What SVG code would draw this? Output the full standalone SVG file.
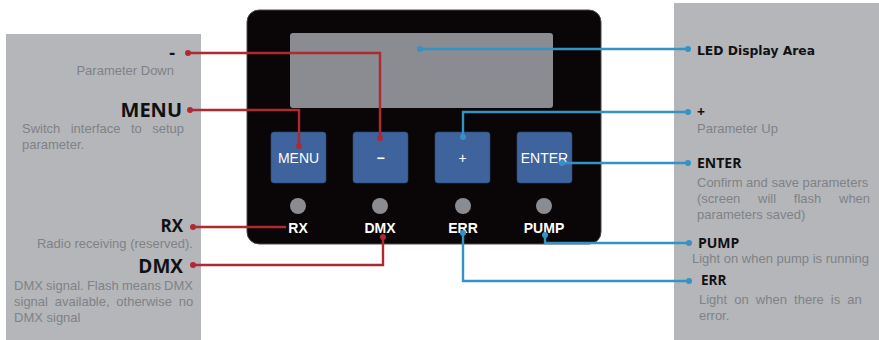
<svg xmlns="http://www.w3.org/2000/svg" width="879" height="340" viewBox="0 0 879 340">
<style>
.panel{fill:#b4b6ba}
.desc{font-family:"Liberation Sans",Arial,sans-serif;font-size:13px;fill:#808286}
.lbl{font-family:"Open Sans","Noto Sans",sans-serif;font-weight:bold;fill:#111}
.btn{fill:#3e639d;stroke:#2c4a78;stroke-width:0.6}
.btxt{font-family:"Liberation Sans",Arial,sans-serif;font-size:14px;fill:#fff;text-anchor:middle}
.led{fill:#8a8c91}
.ledt{font-family:"Liberation Sans",Arial,sans-serif;font-size:14px;font-weight:bold;fill:#fff;text-anchor:middle}
.red{fill:none;stroke:#ae2a33;stroke-width:2.4}
.blue{fill:none;stroke:#3592c4;stroke-width:2.4}
.rd{fill:#ae2a33}
.bd{fill:#3592c4}
</style>
<rect width="879" height="340" fill="#fff"/>
<g id="left-panel">
<rect class="panel" x="6" y="34" width="195" height="306"/>
</g>
<g id="right-panel">
<rect class="panel" x="674" y="3" width="205" height="337"/>
</g>
<g id="device">
<rect x="247" y="10" width="354" height="234" rx="12" fill="#0a0506" stroke="#4a4a4a" stroke-width="1"/>
</g>
<g id="display">
<rect x="290" y="33" width="263" height="75" rx="3" fill="#8a8c91"/>
</g>
<g id="btn-menu">
<rect class="btn" x="271" y="132" width="55" height="51" rx="3"/>
<text class="btxt" x="298.5" y="163">MENU</text>
</g>
<g id="btn-minus">
<rect class="btn" x="353" y="132" width="55" height="51" rx="3"/>
<text class="btxt" x="380.5" y="163" font-weight="bold">−</text>
</g>
<g id="btn-plus">
<rect class="btn" x="435" y="132" width="55" height="51" rx="3"/>
<text class="btxt" x="462.5" y="163">+</text>
</g>
<g id="btn-enter">
<rect class="btn" x="517" y="132" width="55" height="51" rx="3"/>
<text class="btxt" x="544.5" y="163">ENTER</text>
</g>
<g id="led-rx">
<circle class="led" cx="298" cy="206" r="8"/>
<text class="ledt" x="298" y="233">RX</text>
</g>
<g id="led-dmx">
<circle class="led" cx="380" cy="206" r="8"/>
<text class="ledt" x="380" y="233">DMX</text>
</g>
<g id="led-err">
<circle class="led" cx="463" cy="206" r="8"/>
<text class="ledt" x="463" y="233">ERR</text>
</g>
<g id="led-pump">
<circle class="led" cx="544" cy="206" r="8"/>
<text class="ledt" x="544" y="233">PUMP</text>
</g>
<g id="connectors">
<polyline class="red" points="188,53 380,53 380,138"/>
<circle class="rd" cx="188" cy="53" r="3"/><circle class="rd" cx="380" cy="138" r="3"/>
<polyline class="red" points="190,110 299,110 299,146"/>
<circle class="rd" cx="190" cy="110" r="3"/><circle class="rd" cx="299" cy="146" r="3"/>
<polyline class="red" points="193,227 286,227"/>
<circle class="rd" cx="193" cy="227" r="3"/>
<polyline class="red" points="193,265 383,265 383,237"/>
<circle class="rd" cx="193" cy="265" r="3"/><circle class="rd" cx="383" cy="237" r="3"/>
<polyline class="blue" points="420,49 688,49"/>
<circle class="bd" cx="420" cy="49" r="3"/><circle class="bd" cx="688" cy="49" r="3"/>
<polyline class="blue" points="463,137 463,112 688,112"/>
<circle class="bd" cx="463" cy="137" r="3"/><circle class="bd" cx="688" cy="112" r="3"/>
<polyline class="blue" points="562,163 688,163"/>
<circle class="bd" cx="562" cy="163" r="3"/><circle class="bd" cx="688" cy="163" r="3"/>
<polyline class="blue" points="545,235 545,243 689,243"/>
<circle class="bd" cx="545" cy="235" r="3"/><circle class="bd" cx="689" cy="243" r="3"/>
<polyline class="blue" points="463,233 463,281 689,281"/>
<circle class="bd" cx="463" cy="233" r="3"/><circle class="bd" cx="689" cy="281" r="3"/>
</g>
<g id="label-minus">
<text class="lbl" x="175" y="59" font-size="18" text-anchor="end">-</text>
<text class="desc" x="174" y="75" text-anchor="end">Parameter Down</text>
</g>
<g id="label-menu">
<text class="lbl" x="182" y="117" font-size="20" text-anchor="end">MENU</text>
<text class="desc" x="22" y="133" word-spacing="6.8">Switch interface to setup</text>
<text class="desc" x="22" y="149">parameter.</text>
</g>
<g id="label-rx">
<text class="lbl" x="183" y="232" font-size="17" text-anchor="end">RX</text>
<text class="desc" x="193" y="247.5" text-anchor="end">Radio receiving (reserved).</text>
</g>
<g id="label-dmx">
<text class="lbl" x="183" y="273" font-size="19" text-anchor="end">DMX</text>
<text class="desc" x="14" y="290" word-spacing="-0.4">DMX signal. Flash means DMX</text>
<text class="desc" x="14" y="306" word-spacing="3.1">signal available, otherwise no</text>
<text class="desc" x="14" y="322">DMX signal</text>
</g>
<g id="label-led">
<text x="697" y="55" font-family="'DejaVu Sans',sans-serif" font-weight="bold" font-size="12.5" fill="#111" textLength="118" lengthAdjust="spacingAndGlyphs">LED Display Area</text>
</g>
<g id="label-plus">
<text class="lbl" x="697" y="117" font-size="14">+</text>
<text class="desc" x="697" y="133">Parameter Up</text>
</g>
<g id="label-enter">
<text class="lbl" x="697" y="168" font-size="14">ENTER</text>
<text class="desc" x="697" y="187">Confirm and save parameters</text>
<text class="desc" x="697" y="203" word-spacing="14.1">(screen will flash when</text>
<text class="desc" x="697" y="219">parameters saved)</text>
</g>
<g id="label-pump">
<text class="lbl" x="698" y="248" font-size="14">PUMP</text>
<text class="desc" x="692" y="263">Light on when pump is running</text>
</g>
<g id="label-err">
<text class="lbl" x="701" y="285" font-size="13.5">ERR</text>
<text class="desc" x="699" y="304" word-spacing="3.5">Light on when there is an</text>
<text class="desc" x="699" y="320">error.</text>
</g>
</svg>
